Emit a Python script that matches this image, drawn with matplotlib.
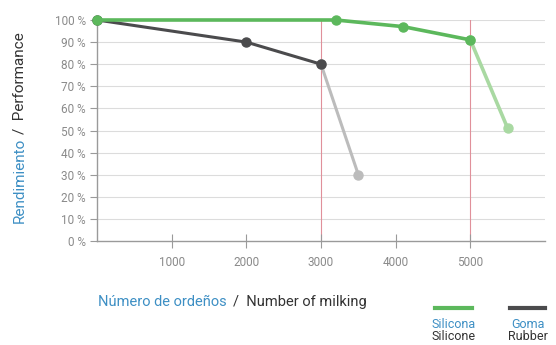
import matplotlib.pyplot as plt

plt.rcParams['font.family'] = ['Roboto', 'DejaVu Sans']

# Silicona / Silicone
silicona_x = [0, 3200, 4100, 5000]
silicona_y = [100, 100, 97, 91]
silicona_end_x = [5000, 5500]
silicona_end_y = [91, 51]

# Goma / Rubber
goma_x = [0, 2000, 3000]
goma_y = [100, 90, 80]
goma_end_x = [3000, 3500]
goma_end_y = [80, 30]

limits_x = [3000, 5000]
x_ticks = [1000, 2000, 3000, 4000, 5000]
y_ticks = list(range(0, 101, 10))

green = '#5cb85c'
light_green = '#a9d9a2'
dark = '#4b4b4d'
light_grey = '#bcbcbc'
blue = '#3d8fc4'
tick_grey = '#8a8a8a'

W, H = 556, 345
fig = plt.figure(figsize=(W / 100, H / 100), dpi=100)
ax = fig.add_axes([97 / W, 1 - 241 / H, (545 - 97) / W, (241 - 20) / H])

ax.set_xlim(0, 6000)
ax.set_ylim(0, 100)

for y in y_ticks[1:]:
    ax.axhline(y, color='#dcdcdc', lw=0.8, zorder=0)
for x in limits_x:
    ax.axvline(x, color='#e0909a', lw=0.8, zorder=1)

ax.plot(goma_end_x, goma_end_y, color=light_grey, lw=2.2, marker='o', ms=6.5,
        clip_on=False, zorder=2)
ax.plot(goma_x, goma_y, color=dark, lw=2.2, marker='o', ms=6.5,
        clip_on=False, zorder=3)
ax.plot(silicona_end_x, silicona_end_y, color=light_green, lw=2.6, marker='o', ms=6.5,
        clip_on=False, zorder=2)
ax.plot(silicona_x, silicona_y, color=green, lw=2.6, marker='o', ms=6.5,
        clip_on=False, zorder=4)

for s in ['top', 'right']:
    ax.spines[s].set_visible(False)
for s in ['left', 'bottom']:
    ax.spines[s].set_color('#9a9a9a')
    ax.spines[s].set_linewidth(1.0)

ax.set_xticks(x_ticks)
ax.set_xticklabels([str(v) for v in x_ticks])
ax.set_yticks(y_ticks)
ax.set_yticklabels([f'{v} %' for v in y_ticks])
ax.tick_params(axis='x', direction='inout', length=10, width=0.8, color='#9a9a9a',
               labelsize=8.5, labelcolor=tick_grey, pad=6)
ax.tick_params(axis='y', direction='out', length=5, width=0.8, color='#9a9a9a',
               labelsize=8.5, labelcolor=tick_grey, pad=3)

renderer = fig.canvas.get_renderer()

# y axis title in two colours, stacked bottom to top
t1 = fig.text(20 / W, 1 - 223 / H, 'Rendimiento', color=blue, fontsize=11,
              rotation=90, ha='center', va='bottom')
bb = t1.get_window_extent(renderer)
fig.text(20 / W, (bb.y1 + 4) / H, '/  Performance', color='#333333', fontsize=11,
         rotation=90, ha='center', va='bottom')

# x axis title in two colours, left to right
t2 = fig.text(98 / W, 1 - 302 / H, 'Número de ordeños', color=blue, fontsize=10.5,
              ha='left', va='center')
bb = t2.get_window_extent(renderer)
fig.text((bb.x1 + 6) / W, 1 - 302 / H, '/  Number of milking', color='#333333',
         fontsize=10.5, ha='left', va='center')

# legend
for x0, x1, col, es, en in [(435, 472, green, 'Silicona', 'Silicone'),
                            (510, 545, dark, 'Goma', 'Rubber')]:
    fig.add_artist(plt.Line2D([x0 / W, x1 / W], [1 - 308 / H] * 2, color=col, lw=3,
                              transform=fig.transFigure))
    xc = (x0 + x1) / 2 / W
    fig.text(xc, 1 - 324 / H, es, color=blue, fontsize=9, ha='center', va='center')
    fig.text(xc, 1 - 337 / H, en, color='#333333', fontsize=9, ha='center', va='center')

fig.savefig('out.png', dpi=100)
